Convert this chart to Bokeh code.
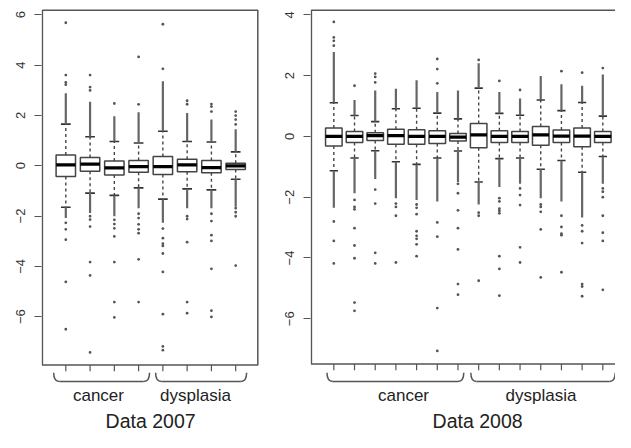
from bokeh.plotting import figure
from bokeh.layouts import row
from bokeh.models import FixedTicker
from bokeh.core.properties import value
from bokeh.embed import file_html
from bokeh.resources import INLINE

# ---------------- data ----------------
group_labels = ["cancer", "dysplasia"]
titles = ["Data 2007", "Data 2008"]
yticks = [-6, -4, -2, 0, 2, 4, 6]

groups_2007 = ["cancer", "cancer", "cancer", "cancer",
               "dysplasia", "dysplasia", "dysplasia", "dysplasia"]
q1_2007 = [-0.43, -0.22, -0.37, -0.26, -0.35, -0.24, -0.28, -0.15]
med_2007 = [0.03, 0.06, -0.09, -0.04, -0.04, 0.03, -0.08, -0.01]
q3_2007 = [0.42, 0.33, 0.19, 0.21, 0.36, 0.26, 0.21, 0.10]
wlo_2007 = [-1.65, -1.09, -1.18, -0.88, -1.33, -0.92, -0.96, -0.54]
whi_2007 = [1.65, 1.15, 0.96, 0.90, 1.37, 0.96, 0.94, 0.55]
dlo_2007 = [-2.08, -1.88, -2.01, -1.69, -2.27, -1.69, -1.69, -1.63]
dhi_2007 = [2.88, 2.54, 1.96, 2.12, 3.35, 2.09, 1.83, 1.45]
out_2007 = [
    [3.22, 3.31, 3.6, 5.68, -2.27, -2.53, -2.94, -4.62, -6.5],
    [2.99, 3.12, 3.6, -2.01, -2.14, -2.42, -3.83, -4.36, -7.42],
    [2.47, -2.15, -2.32, -2.49, -2.81, -3.83, -5.42, -6.03],
    [2.44, 4.32, -1.91, -2.08, -2.33, -2.53, -2.68, -3.72, -5.42],
    [3.85, 5.62, -2.5, -2.88, -3.1, -3.19, -3.49, -4.22, -5.9, -7.18, -7.33],
    [2.44, 2.58, -2.01, -2.12, -3.04, -5.42, -5.86],
    [2.15, 2.35, 2.45, -1.91, -2.2, -2.76, -2.99, -4.1, -5.76, -6.01],
    [1.64, 1.83, 1.99, 2.15, -1.69, -1.85, -2.01, -3.97],
]

groups_2008 = ["cancer"] * 7 + ["dysplasia"] * 7
q1_2008 = [-0.31, -0.20, -0.13, -0.26, -0.26, -0.23, -0.15,
           -0.37, -0.20, -0.20, -0.29, -0.20, -0.34, -0.20]
med_2008 = [0.0, 0.0, 0.03, 0.03, 0.0, 0.0, -0.02,
            0.05, 0.0, 0.0, 0.05, 0.01, 0.01, 0.0]
q3_2008 = [0.28, 0.16, 0.12, 0.24, 0.22, 0.19, 0.10,
           0.43, 0.19, 0.16, 0.33, 0.21, 0.28, 0.16]
wlo_2008 = [-1.13, -0.71, -0.47, -0.83, -0.92, -0.71, -0.48,
            -1.50, -0.73, -0.71, -1.08, -0.79, -1.18, -0.66]
whi_2008 = [1.11, 0.69, 0.49, 0.91, 0.93, 0.77, 0.58,
            1.59, 0.76, 0.70, 1.20, 0.85, 1.12, 0.67]
dlo_2008 = [-2.35, -1.87, -1.40, -2.03, -2.09, -2.14, -1.50,
            -2.24, -1.66, -1.56, -2.03, -2.14, -2.67, -1.56]
dhi_2008 = [2.78, 1.20, 1.51, 1.57, 1.85, 1.46, 1.51,
            2.41, 1.46, 1.25, 1.99, 1.72, 1.67, 2.04]
out_2008 = [
    [2.99, 3.15, 3.26, 3.77, -2.8, -3.44, -4.18],
    [1.67, -2.09, -2.32, -2.4, -3.02, -3.59, -4.01, -5.47, -5.74],
    [1.78, 1.96, 2.07, -1.75, -2.21, -3.83, -4.18],
    [-2.21, -2.32, -2.61, -4.15],
    [-2.24, -2.35, -2.56, -3.12, -3.27, -3.37, -3.55, -3.94],
    [1.75, 2.22, 2.55, -2.83, -3.3, -5.65, -7.06],
    [-1.56, -1.87, -2.43, -3.02, -3.72, -4.86, -5.21],
    [2.52, -2.51, -2.61, -4.75],
    [1.83, -2.03, -2.14, -2.38, -2.45, -2.53, -3.94, -4.36, -5.24],
    [1.53, -1.71, -1.93, -2.26, -3.65, -4.15],
    [-2.24, -2.32, -2.48, -3.06, -4.64],
    [2.15, -2.61, -2.98, -3.2, -3.25, -4.47],
    [2.1, -2.93, -3.12, -3.51, -4.86, -4.94, -5.26],
    [2.25, -1.71, -1.82, -2.0, -2.61, -3.17, -3.44, -5.05],
]

# ---------------- styling / layout ----------------
FONT = "Liberation Sans"
LINE = "#444444"
FRAME = "#555555"
TEXT = "#222222"
FIG_H = 432
SX = 615 / 631   # figure px per reference px
SY = 432 / 448


def make_panel(groups, q1, med, q3, wlo, whi, dlo, dhi, outs, title,
               width, mb_left, mb_right, x_range, y_range, frame_box,
               brace_pad, curl, brace_y, tick_end, label_x, label_y,
               title_x, title_y):
    n = len(q1)
    pos = list(range(1, n + 1))
    p = figure(width=width, height=FIG_H, x_range=x_range, y_range=y_range,
               output_backend="svg", toolbar_location=None,
               x_axis_location=None, min_border_left=mb_left,
               min_border_right=mb_right, min_border_top=1,
               min_border_bottom=0)
    p.title.visible = False
    p.grid.visible = False
    p.outline_line_color = None
    p.background_fill_color = "white"
    p.border_fill_color = "white"

    ax = p.yaxis[0]
    ax.ticker = FixedTicker(ticks=[t for t in yticks
                                   if frame_box[2] < t < frame_box[3]])
    ax.axis_line_color = None
    ax.major_tick_out = 7
    ax.major_tick_in = 0
    ax.minor_tick_out = 0
    ax.minor_tick_in = 0
    ax.major_tick_line_color = FRAME
    ax.major_tick_line_width = 1.2
    ax.major_label_orientation = "vertical"
    ax.major_label_standoff = 9
    ax.major_label_text_font = FONT
    ax.major_label_text_font_size = "13px"
    ax.major_label_text_color = "#333333"

    l, r, b, t = frame_box
    # plot box
    p.quad(left=[l], right=[r], bottom=[b], top=[t], fill_color=None,
           line_color=FRAME, line_width=1.5)

    hw = 0.4
    sw = 0.2
    # whiskers (dashed)
    p.segment(x0=pos, y0=q3, x1=pos, y1=whi, line_color=LINE,
              line_width=1.4, line_dash="3 3")
    p.segment(x0=pos, y0=q1, x1=pos, y1=wlo, line_color=LINE,
              line_width=1.4, line_dash="3 3")
    # staples
    p.segment(x0=[x - sw for x in pos], y0=whi, x1=[x + sw for x in pos],
              y1=whi, line_color="#333333", line_width=1.6)
    p.segment(x0=[x - sw for x in pos], y0=wlo, x1=[x + sw for x in pos],
              y1=wlo, line_color="#333333", line_width=1.6)
    # dense runs of outliers
    p.segment(x0=pos, y0=whi, x1=pos, y1=dhi, line_color="#666666",
              line_width=2.2)
    p.segment(x0=pos, y0=wlo, x1=pos, y1=dlo, line_color="#666666",
              line_width=2.2)
    # sparse outliers
    ox, oy = [], []
    for x, vals in zip(pos, outs):
        for v in vals:
            ox.append(x)
            oy.append(v)
    p.scatter(x=ox, y=oy, marker="circle", size=2.8, fill_color="#555555",
              line_color=None)
    # boxes
    p.quad(left=[x - hw for x in pos], right=[x + hw for x in pos],
           bottom=q1, top=q3, fill_color="white", line_color=LINE,
           line_width=1.5)
    # medians
    p.segment(x0=[x - hw for x in pos], y0=med, x1=[x + hw for x in pos],
              y1=med, line_color="black", line_width=3.2)

    # x ticks
    p.segment(x0=pos, y0=[b] * n, x1=pos, y1=[tick_end] * n,
              line_color=FRAME, line_width=1.2)

    # braces under each group
    bt, bb = brace_y
    for gi, g in enumerate(group_labels):
        idx = [i + 1 for i, gg in enumerate(groups) if gg == g]
        bl = idx[0] - brace_pad[gi][0]
        br = idx[-1] + brace_pad[gi][1]
        p.quadratic(x0=[bl, br], y0=[bt, bt], x1=[bl + curl, br - curl],
                    y1=[bb, bb], cx=[bl, br], cy=[bb, bb],
                    line_color=FRAME, line_width=1.5)
        p.segment(x0=[bl + curl], y0=[bb], x1=[br - curl], y1=[bb],
                  line_color=FRAME, line_width=1.5)

    p.text(x=label_x, y=[label_y] * len(group_labels), text=group_labels,
           text_font=value(FONT), text_font_size=value("17px"),
           text_align="center", text_baseline="alphabetic",
           text_color=TEXT)
    p.text(x=[title_x], y=[title_y], text=[title], text_font=value(FONT),
           text_font_size=value("19.5px"), text_align="center",
           text_baseline="alphabetic", text_color=TEXT)
    return p


# reference-pixel -> data helpers (layout only)
def yl(px):
    return (171.3 - px) / 26.1


def xl(px):
    return 1 + (px - 67) / 24.9


def yr_(px):
    return (141 - px) / 31.5


def xr_(px):
    return 1 + (px - 342) / 21.23


W1, W2 = 272, 343
MB1L, MB1R = 41, 13
MB2L = 38
ytop_ref = 1 / SY
ybot_ref = FIG_H / SY
LBL = 417 - 7 / SY      # compensate baseline offset of svg text
TTL = 444 - 7.5 / SY

p1 = make_panel(groups_2007, q1_2007, med_2007, q3_2007, wlo_2007, whi_2007,
                dlo_2007, dhi_2007, out_2007, titles[0],
                width=W1, mb_left=MB1L, mb_right=MB1R,
                x_range=(xl(MB1L / SX), xl((W1 - MB1R) / SX)),
                y_range=(yl(ybot_ref), yl(ytop_ref)),
                frame_box=(xl(43), xl(264), yl(378), yl(10)),
                brace_pad=[(0.5, 0.45), (0.3, 0.45)], curl=0.24,
                brace_y=(yl(386), yl(395)), tick_end=yl(384.5),
                label_x=[xl(100.5), xl(200)], label_y=yl(LBL),
                title_x=xl(154), title_y=yl(TTL))

p2 = make_panel(groups_2008, q1_2008, med_2008, q3_2008, wlo_2008, whi_2008,
                dlo_2008, dhi_2008, out_2008, titles[1],
                width=W2, mb_left=MB2L, mb_right=0,
                x_range=(xr_((W1 + MB2L) / SX), xr_((W1 + W2) / SX)),
                y_range=(yr_(ybot_ref), yr_(ytop_ref)),
                frame_box=(xr_(319), 15.0, yr_(377), yr_(10)),
                brace_pad=[(0.33, 0.28), (0.38, 0.6)], curl=0.28,
                brace_y=(yr_(386), yr_(395)), tick_end=yr_(383.5),
                label_x=[xr_(413.5), xr_(554.5)], label_y=yr_(LBL),
                title_x=xr_(489.5), title_y=yr_(TTL))

layout = row(p1, p2)
open("out.html", "w").write(file_html(layout, INLINE))
